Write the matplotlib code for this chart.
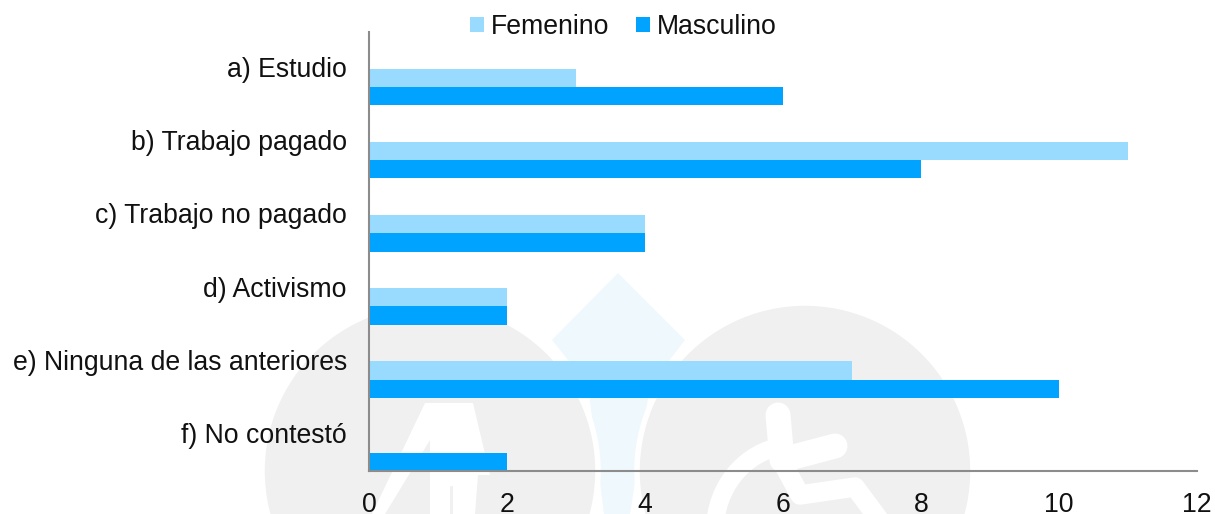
import numpy as np
import matplotlib.pyplot as plt
from matplotlib.patches import Circle, Polygon, Arc
from matplotlib.transforms import ScaledTranslation

W, H = 1215, 514

categories = ['a) Estudio', 'b) Trabajo pagado', 'c) Trabajo no pagado', 'd) Activismo',
              'e) Ninguna de las anteriores', 'f) No contestó']
femenino = [3, 11, 4, 2, 7, 0]
masculino = [6, 8, 4, 2, 10, 2]
x_ticks = [0, 2, 4, 6, 8, 10, 12]

LIGHT = '#99DAFF'
DARK = '#00A3FF'
AXIS = '#8C8C8C'
GREY = '#F0F0F0'

plt.rcParams['font.family'] = ['Liberation Sans', 'DejaVu Sans']

fig = plt.figure(figsize=(W / 100, H / 100), dpi=100)

# watermark behind the chart, in pixel coords
bg = fig.add_axes([0, 0, 1, 1], zorder=0)
bg.set_xlim(0, W)
bg.set_ylim(H, 0)
bg.axis('off')
bg.add_patch(Polygon([(618, 273), (685, 340), (650, 385), (630, 514), (604, 514), (588, 385), (552, 340)],
                     fc='#EEF8FD', ec='none'))
bg.add_patch(Circle((430, 471), 168, fc=GREY, ec='white', lw=4))
bg.add_patch(Circle((805, 471), 168, fc=GREY, ec='white', lw=4))

# person
bg.add_patch(Polygon([(425, 403), (473, 403), (490, 475), (478, 475), (475, 514), (430, 514), (430, 440), (385, 514),
                      (372, 514)], fc='white', ec='none'))
bg.plot([451, 451], [487, 514], color=GREY, lw=2)
# wheelchair
bg.plot([778, 782, 835], [415, 460, 446], color='white', lw=18, solid_capstyle='round', solid_joinstyle='round')
bg.plot([782, 800, 855, 875], [462, 495, 487, 514], color='white', lw=14, solid_joinstyle='round')
bg.add_patch(Arc((795, 530), 160, 170, theta1=180, theta2=262, color='white', lw=13))

ax = fig.add_axes([369 / W, 1 - 471 / H, (1197 - 369) / W, (471 - 32) / H], zorder=1)
ax.patch.set_alpha(0)

y = np.arange(len(categories))
h = 0.25
ax.barh(y + h / 2, femenino, h, color=LIGHT, label='Femenino')
ax.barh(y + 3 * h / 2, masculino, h, color=DARK, label='Masculino')

ax.set_xlim(0, 12)
ax.set_ylim(len(categories) - 0.5, -0.5)
ax.set_xticks(x_ticks)
ax.set_yticks(y)
ax.set_yticklabels(categories)
ax.tick_params(axis='both', length=0, labelsize=19.2, labelcolor='#111111')
ax.tick_params(axis='x', pad=15)
ax.tick_params(axis='y', pad=16)

# labels sit a little above the category centre
shift = ScaledTranslation(0, 1.5 / 100, fig.dpi_scale_trans)
for label in ax.get_yticklabels():
    label.set_transform(label.get_transform() + shift)

for s in ['top', 'right']:
    ax.spines[s].set_visible(False)
for s in ['left', 'bottom']:
    ax.spines[s].set_color(AXIS)
    ax.spines[s].set_linewidth(1.5)

ax.legend(loc='center', bbox_to_anchor=(0.307, 1.011), ncol=2, frameon=False, fontsize=19.2,
          handlelength=0.52, handleheight=0.52, handletextpad=0.25, columnspacing=1.0,
          labelcolor='#111111')

fig.savefig('out.png', dpi=100)
